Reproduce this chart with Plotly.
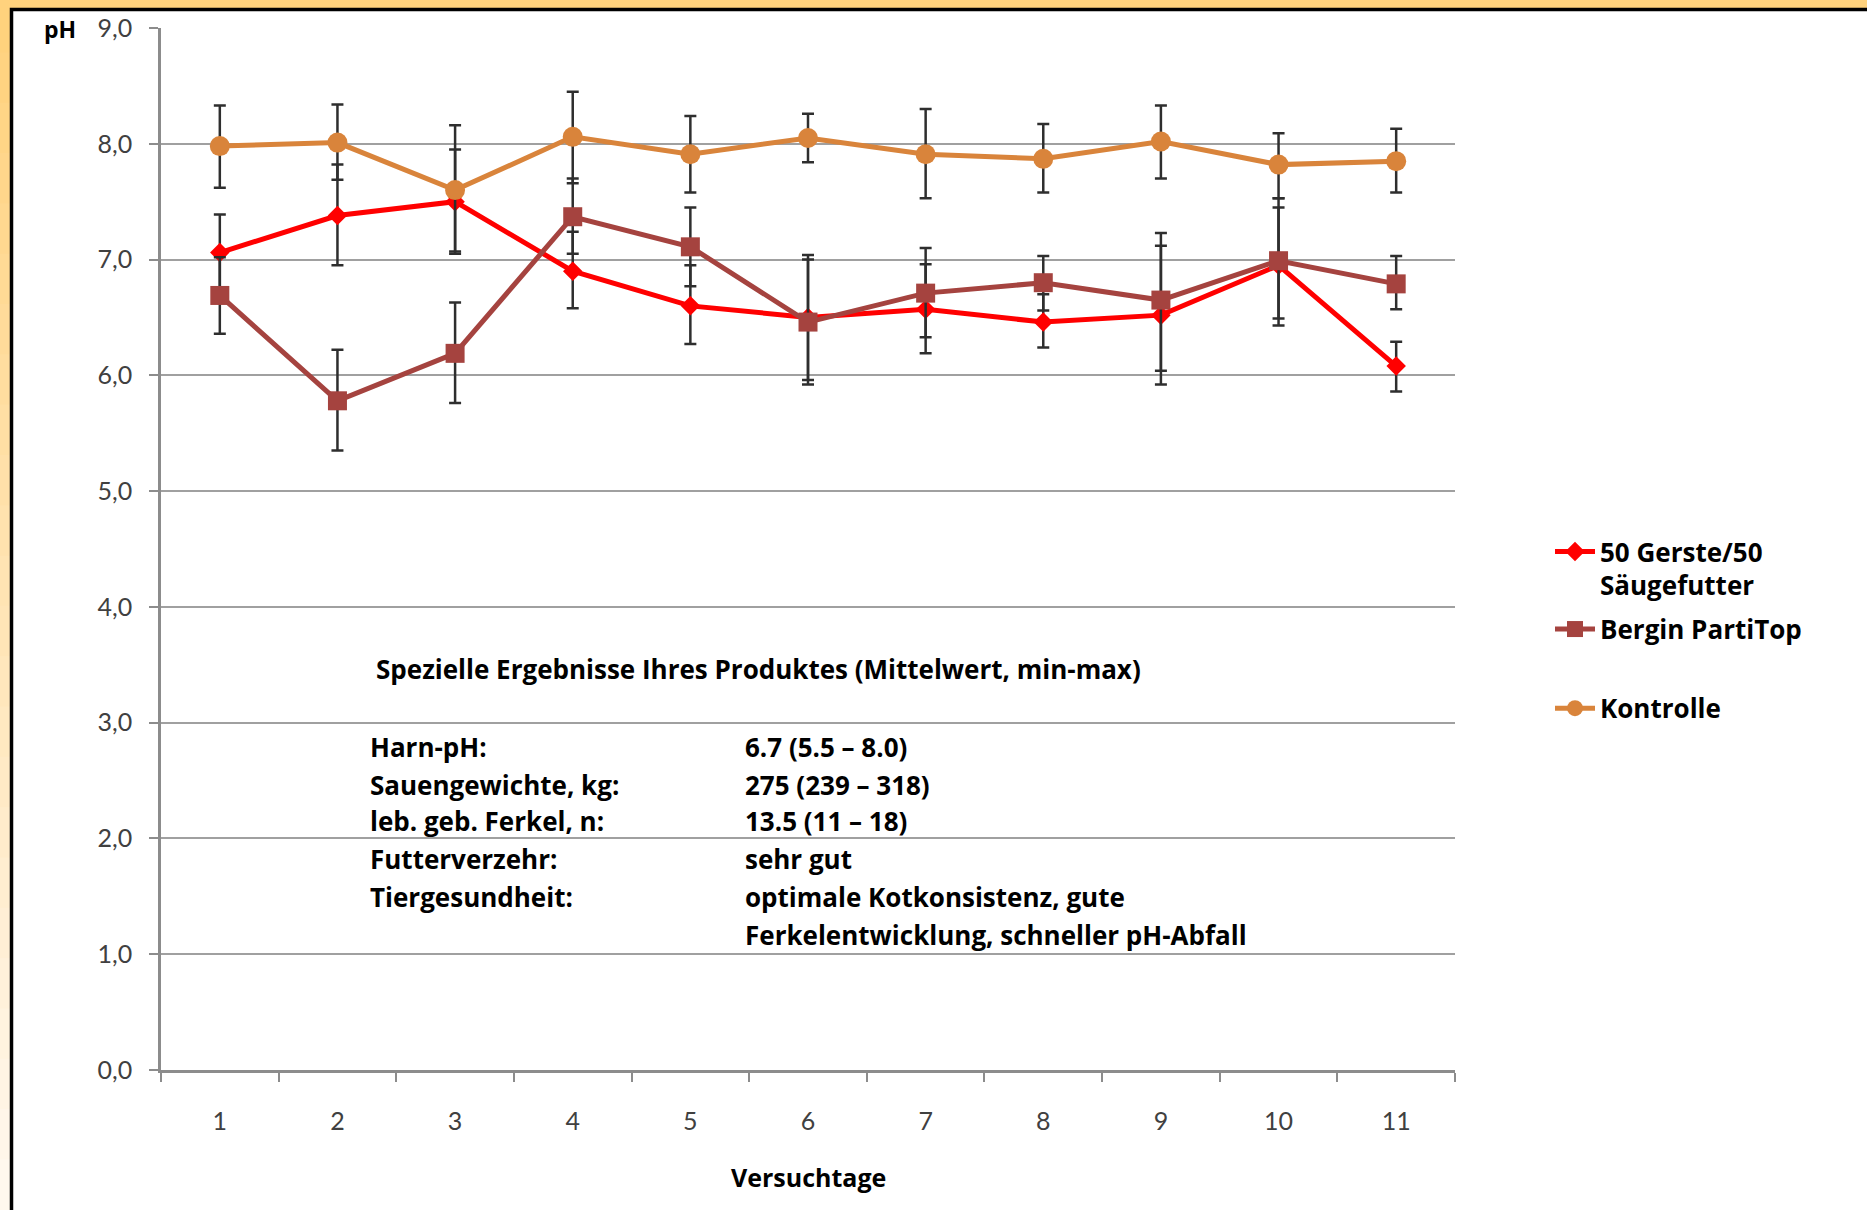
import plotly.graph_objects as go

# ---------------- data ----------------
days = [1, 2, 3, 4, 5, 6, 7, 8, 9, 10, 11]
day_labels = ["1", "2", "3", "4", "5", "6", "7", "8", "9", "10", "11"]

gerste = [7.06, 7.38, 7.50, 6.90, 6.60, 6.50, 6.57, 6.46, 6.52, 6.95, 6.08]
gerste_plus = [0.33, 0.44, 0.45, 0.34, 0.35, 0.54, 0.39, 0.24, 0.60, 0.50, 0.21]
gerste_minus = [0.33, 0.43, 0.43, 0.32, 0.33, 0.58, 0.38, 0.22, 0.60, 0.52, 0.22]

bergin = [6.69, 5.78, 6.19, 7.37, 7.11, 6.46, 6.71, 6.80, 6.65, 6.99, 6.79]
bergin_plus = [0.33, 0.44, 0.44, 0.33, 0.34, 0.54, 0.39, 0.23, 0.58, 0.54, 0.24]
bergin_minus = [0.33, 0.43, 0.43, 0.32, 0.34, 0.50, 0.38, 0.24, 0.61, 0.50, 0.22]

kontrolle = [7.98, 8.01, 7.60, 8.06, 7.91, 8.05, 7.91, 7.87, 8.02, 7.82, 7.85]
kontrolle_plus = [0.35, 0.33, 0.56, 0.39, 0.33, 0.21, 0.39, 0.30, 0.31, 0.27, 0.28]
kontrolle_minus = [0.36, 0.32, 0.55, 0.40, 0.33, 0.21, 0.38, 0.29, 0.32, 0.29, 0.27]

y_ticks = [0, 1, 2, 3, 4, 5, 6, 7, 8, 9]
y_tick_labels = ["0,0", "1,0", "2,0", "3,0", "4,0", "5,0", "6,0", "7,0", "8,0", "9,0"]
x_minor_ticks = [0.5, 1.5, 2.5, 3.5, 4.5, 5.5, 6.5, 7.5, 8.5, 9.5, 10.5, 11.5]

names = ["<b>50 Gerste/50<br>Säugefutter</b>", "<b>Bergin PartiTop</b>", "<b>Kontrolle</b>"]

info_title = "Spezielle Ergebnisse Ihres Produktes (Mittelwert, min-max)"
info_keys = ["Harn-pH:", "Sauengewichte, kg:", "leb. geb. Ferkel, n:",
             "Futterverzehr:", "Tiergesundheit:", ""]
info_vals = ["6.7 (5.5 \u2013 8.0)", "275 (239 \u2013 318)", "13.5 (11 \u2013 18)",
             "sehr gut", "optimale Kotkonsistenz, gute",
             "Ferkelentwicklung, schneller pH-Abfall"]

# ---------------- layout geometry (pixels) ----------------
W, H = 1867, 1210
L, R, T, B = 161, 1455, 26, 1070


def px_x(x):
    return (x - L) / (R - L)


def px_y(y):
    return (B - y) / (B - T)


FONT = "Lato"
BFONT = "Open Sans"
RED = "#FF0000"
BROWN = "#A5433F"
ORANGE = "#D9843B"
ERR = "#2E2E2E"
GRID = "#A0A0A0"
AXIS = "#8C8C8C"

fig = go.Figure()


def add_series(y, plus, minus, name, color, symbol, size, legend, group):
    fig.add_trace(go.Scatter(
        x=days, y=y, name=name, mode="lines+markers",
        line=dict(color=color, width=5),
        marker=dict(color=color, symbol=symbol, size=size),
        error_y=dict(type="data", symmetric=False, array=plus, arrayminus=minus,
                     color=ERR, thickness=2.5, width=6),
        legend=legend, legendgroup=group,
    ))


add_series(gerste, gerste_plus, gerste_minus, names[0], RED, "diamond", 15, "legend", "g1")
add_series(bergin, bergin_plus, bergin_minus, names[1], BROWN, "square", 19, "legend", "g2")
add_series(kontrolle, kontrolle_plus, kontrolle_minus, names[2], ORANGE, "circle", 20, "legend2", "g3")

shapes = []
# outer frame: left band gradient (orange -> near white)
n_strips = 24
for i in range(n_strips):
    t = i / (n_strips - 1)
    r0, g0, b0 = 255, 210, 125
    r1, g1, b1 = 255, 248, 238
    col = "rgb(%d,%d,%d)" % (r0 + (r1 - r0) * t, g0 + (g1 - g0) * t, b0 + (b1 - b0) * t)
    y_top = H * i / n_strips
    y_bot = H * (i + 1) / n_strips + 1
    shapes.append(dict(type="rect", xref="paper", yref="paper",
                       x0=px_x(-5), x1=px_x(11), y0=px_y(y_bot), y1=px_y(y_top),
                       fillcolor=col, line=dict(width=0), layer="below"))
# top band
shapes.append(dict(type="rect", xref="paper", yref="paper",
                   x0=px_x(-5), x1=px_x(W + 5), y0=px_y(6), y1=px_y(-5),
                   fillcolor="#FFD27D", line=dict(width=0), layer="below"))
# white card with black border
shapes.append(dict(type="rect", xref="paper", yref="paper",
                   x0=px_x(11.5), x1=px_x(W + 20), y0=px_y(H + 20), y1=px_y(7.5),
                   fillcolor="white", line=dict(color="black", width=3.5), layer="below"))

annotations = []
annotations.append(dict(text="<b>pH</b>", xref="paper", yref="paper",
                        x=px_x(60), y=px_y(27), showarrow=False,
                        font=dict(family=BFONT, size=23, color="black"),
                        xanchor="center", yanchor="middle"))
annotations.append(dict(text="<b>Versuchtage</b>", xref="paper", yref="paper",
                        x=px_x(808), y=px_y(1177), showarrow=False,
                        font=dict(family=BFONT, size=25, color="black"),
                        xanchor="center", yanchor="middle"))
annotations.append(dict(text="<b>" + info_title + "</b>", xref="paper", yref="paper",
                        x=px_x(374), y=px_y(668), showarrow=False,
                        font=dict(family=BFONT, size=26, color="black"),
                        xanchor="left", yanchor="middle"))
row_y = [746, 784, 821, 859, 897, 935]
for k, v, yy in zip(info_keys, info_vals, row_y):
    if k:
        annotations.append(dict(text="<b>" + k + "</b>", xref="paper", yref="paper",
                                x=px_x(368), y=px_y(yy), showarrow=False,
                                font=dict(family=BFONT, size=26, color="black"),
                                xanchor="left", yanchor="middle"))
    annotations.append(dict(text="<b>" + v + "</b>", xref="paper", yref="paper",
                            x=px_x(743), y=px_y(yy), showarrow=False,
                            font=dict(family=BFONT, size=26, color="black"),
                            xanchor="left", yanchor="middle"))

legend_font = dict(family=BFONT, size=26, color="black")

fig.update_layout(
    width=W, height=H,
    margin=dict(l=L, r=W - R, t=T, b=H - B, pad=0),
    paper_bgcolor="white",
    plot_bgcolor="rgba(0,0,0,0)",
    showlegend=True,
    shapes=shapes,
    annotations=annotations,
    font=dict(family=FONT),
    legend=dict(x=px_x(1550), y=px_y(527), xanchor="left", yanchor="top",
                bgcolor="rgba(0,0,0,0)", font=legend_font, valign="top",
                tracegroupgap=7, itemwidth=40),
    legend2=dict(x=px_x(1550), y=px_y(684), xanchor="left", yanchor="top",
                 bgcolor="rgba(0,0,0,0)", font=legend_font, valign="top",
                 itemwidth=40),
    xaxis=dict(
        range=[0.5, 11.5], tickmode="array", tickvals=days, ticktext=day_labels,
        ticks="", showgrid=False, zeroline=False,
        showline=True, linecolor=AXIS, linewidth=2.5,
        tickfont=dict(family=FONT, size=25, color="#404040"),
        ticklabelstandoff=27,
        minor=dict(tickmode="array", tickvals=x_minor_ticks, ticks="outside",
                   ticklen=9, tickwidth=2, tickcolor=AXIS, showgrid=False),
        fixedrange=True,
    ),
    yaxis=dict(
        range=[0, 9], tickmode="array", tickvals=y_ticks, ticktext=y_tick_labels,
        ticks="outside", ticklen=9, tickwidth=2, tickcolor=AXIS,
        showgrid=True, gridcolor=GRID, gridwidth=2,
        zeroline=False, showline=True, linecolor=AXIS, linewidth=2.5,
        tickfont=dict(family=FONT, size=25, color="#404040"),
        ticklabelstandoff=12,
        fixedrange=True,
    ),
)

fig.write_html("out.html", config={"displayModeBar": False},
               post_script="document.body.style.margin='0';")
